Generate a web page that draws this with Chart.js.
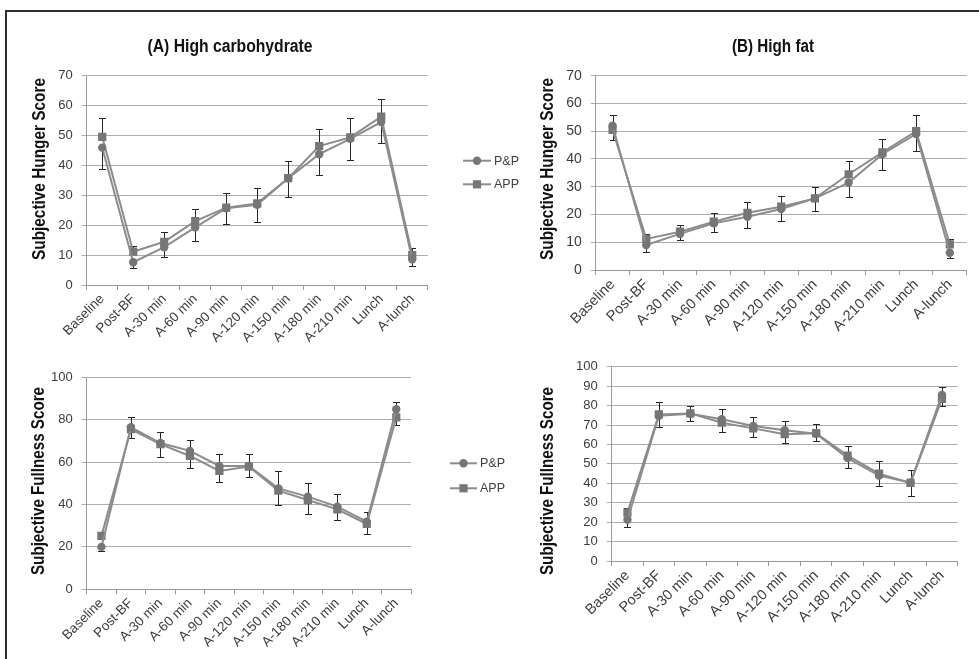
<!DOCTYPE html>
<html><head><meta charset="utf-8">
<script src="https://cdn.jsdelivr.net/npm/chart.js@4.4.1/dist/chart.umd.min.js"></script>
<style>
html,body{margin:0;padding:0;background:#fff;}
#wrap{position:relative;width:979px;height:659px;overflow:hidden;background:#fff;}
#frame{position:absolute;left:5px;top:10px;width:1000px;height:700px;border-top:2px solid #2e2e2e;border-left:2px solid #2e2e2e;}
canvas{position:absolute;}
</style></head><body>
<div id="wrap"><div id="frame"></div>
<canvas id="c1" width="530" height="340" style="left:0px;top:20px"></canvas>
<canvas id="c2" width="449" height="330" style="left:530px;top:20px"></canvas>
<canvas id="c3" width="530" height="299" style="left:0px;top:360px"></canvas>
<canvas id="c4" width="449" height="309" style="left:530px;top:350px"></canvas>
</div>
<script>
const categories = ['Baseline','Post-BF','A-30 min','A-60 min','A-90 min','A-120 min','A-150 min','A-180 min','A-210 min','Lunch','A-lunch'];
const seriesNames = ['P&P','APP'];

// (A) High carbohydrate – hunger
const hungerHC_PP      = [45.8, 7.6, 12.6, 19.2, 25.6, 26.7, 35.6, 43.6, 48.7, 54.3, 8.6];
const hungerHC_PP_err  = [7.1, 1.8, 3.2, 4.4, 5.4, 5.8, 6.4, 6.9, 7.0, 6.9, 2.3];
const hungerHC_APP     = [49.4, 11.1, 14.4, 21.3, 25.8, 27.2, 35.6, 46.3, 49.2, 56.1, 10.0];
const hungerHC_APP_err = [6.4, 2.0, 3.3, 4.1, 4.9, 5.1, 5.8, 5.8, 6.6, 5.9, 2.4];

// (B) High fat – hunger
const hungerHF_PP      = [52.0, 9.0, 13.0, 16.8, 19.2, 22.0, 25.8, 31.5, 41.7, 49.0, 6.2];
const hungerHF_PP_err  = [5.2, 2.6, 2.3, 3.2, 4.0, 4.5, 4.7, 5.1, 5.7, 6.1, 1.8];
const hungerHF_APP     = [50.5, 11.2, 13.8, 17.4, 20.6, 22.8, 25.8, 34.5, 42.4, 50.0, 9.2];
const hungerHF_APP_err = [5.2, 1.9, 2.4, 3.1, 3.9, 3.8, 4.1, 4.8, 4.7, 5.7, 2.0];

// (A) High carbohydrate – fullness
const fullHC_PP      = [20.0, 76.5, 69.0, 65.3, 58.2, 58.2, 47.6, 43.7, 39.0, 31.9, 84.9];
const fullHC_PP_err  = [1.9, 5.0, 6.4, 7.9, 7.7, 5.4, 7.8, 8.2, 6.3, 6.0, 7.4];
const fullHC_APP     = [25.2, 75.5, 68.5, 62.9, 55.8, 57.9, 46.5, 42.1, 37.7, 30.8, 81.1];
const fullHC_APP_err = [1.2, 5.8, 5.7, 7.5, 8.0, 5.9, 9.3, 8.1, 7.3, 5.8, 7.1];

// (B) High fat – fullness
const fullHF_PP      = [21.2, 74.8, 75.8, 73.0, 69.5, 67.3, 65.5, 53.0, 44.0, 40.4, 85.5];
const fullHF_PP_err  = [3.5, 5.8, 3.5, 6.4, 5.9, 6.6, 3.6, 5.1, 5.6, 6.8, 5.9];
const fullHF_APP     = [24.9, 75.5, 76.0, 71.2, 68.3, 65.3, 65.8, 54.3, 45.0, 40.2, 83.5];
const fullHF_APP_err = [2.5, 6.6, 3.6, 7.0, 6.1, 6.7, 5.0, 5.1, 6.3, 6.9, 6.2];

const hungerTicks = {min:0, max:70, step:10};
const fullHCTicks = {min:0, max:100, step:20};
const fullHFTicks = {min:0, max:100, step:10};

const TITLE_FAMILY = '"Liberation Sans", Arial, sans-serif';
const TICK_FAMILY = '"Liberation Sans", Arial, sans-serif';
const LINE_COLOR = '#8c8c8c';
const MARK_COLOR = '#767676';

// draws bold text horizontally condensed to a target width (narrow-font look)
function drawNarrow(ctx, text, x, y, size, width, rotate){
  ctx.save();
  ctx.font = 'bold ' + size + 'px ' + TITLE_FAMILY;
  const w = ctx.measureText(text).width;
  const sx = width / w;
  ctx.translate(x, y);
  if (rotate) ctx.rotate(-Math.PI/2);
  ctx.scale(sx, 1);
  ctx.textAlign = 'center';
  ctx.textBaseline = 'middle';
  ctx.fillStyle = '#111';
  ctx.fillText(text, 0, 0);
  ctx.restore();
}

const panelPlugin = {
  id: 'panel',
  beforeDatasetsDraw(chart, args, opts){
    const ctx = chart.ctx, ys = chart.scales.y;
    ctx.save();
    ctx.strokeStyle = '#262626';
    ctx.lineWidth = 1;
    chart.data.datasets.forEach((ds, i) => {
      const meta = chart.getDatasetMeta(i);
      meta.data.forEach((pt, j) => {
        const v = ds.data[j];
        const sets = [];
        if (ds.errPlus) sets.push(v + ds.errPlus[j]);
        if (ds.errMinus) sets.push(v - ds.errMinus[j]);
        sets.forEach(e => {
          const x = Math.round(pt.x) + 0.5;
          const y0 = ys.getPixelForValue(v);
          const y1 = Math.round(ys.getPixelForValue(e)) + 0.5;
          ctx.beginPath();
          ctx.moveTo(x, y0); ctx.lineTo(x, y1);
          ctx.moveTo(x - 3.5, y1); ctx.lineTo(x + 3.5, y1);
          ctx.stroke();
        });
      });
    });
    ctx.restore();
  },
  afterDraw(chart, args, opts){
    const ctx = chart.ctx;
    if (opts.title){
      drawNarrow(ctx, opts.title.text, opts.title.x, opts.title.y, 18, opts.title.width, false);
    }
    if (opts.yTitle){
      drawNarrow(ctx, opts.yTitle.text, opts.yTitle.x, opts.yTitle.y, 19, opts.yTitle.width, true);
    }
    if (opts.legend){
      ctx.save();
      const L = opts.legend;
      chart.data.datasets.forEach((ds, i) => {
        const y = L.y + i * L.gap;
        ctx.strokeStyle = ds.borderColor;
        ctx.lineWidth = 2;
        ctx.beginPath(); ctx.moveTo(L.x, y); ctx.lineTo(L.x + L.len, y); ctx.stroke();
        ctx.fillStyle = ds.pointBackgroundColor;
        const cx = L.x + L.len / 2;
        ctx.beginPath();
        if (ds.pointStyle === 'rect'){
          const h = ds.pointRadius * Math.SQRT1_2;
          ctx.rect(cx - h, y - h, 2*h, 2*h);
        } else {
          ctx.arc(cx, y, ds.pointRadius, 0, Math.PI*2);
        }
        ctx.fill();
        ctx.fillStyle = '#404040';
        ctx.font = L.font + 'px ' + TICK_FAMILY;
        ctx.textAlign = 'left';
        ctx.textBaseline = 'middle';
        ctx.fillText(ds.label, L.x + L.len + 3, y + 0.5);
      });
      ctx.restore();
    }
  }
};

function makeChart(id, cfg){
  const ctx = document.getElementById(id);
  return new Chart(ctx, {
    type: 'line',
    data: {
      labels: categories,
      datasets: [
        {label: seriesNames[0], data: cfg.pp, errMinus: cfg.ppErr,
         borderColor: LINE_COLOR, borderWidth: 2, pointStyle: 'circle', pointRadius: 4.2,
         pointBackgroundColor: MARK_COLOR, pointBorderColor: MARK_COLOR, pointBorderWidth: 0, tension: 0, fill: false},
        {label: seriesNames[1], data: cfg.app, errPlus: cfg.appErr,
         borderColor: LINE_COLOR, borderWidth: 2, pointStyle: 'rect', pointRadius: 5.8,
         pointBackgroundColor: MARK_COLOR, pointBorderColor: MARK_COLOR, pointBorderWidth: 0, tension: 0, fill: false}
      ]
    },
    options: {
      responsive: false, animation: false, devicePixelRatio: 1,
      layout: {padding: {top: cfg.padTop, right: cfg.padRight, left: 0, bottom: 0}},
      plugins: {
        legend: {display: false}, tooltip: {enabled: false}, title: {display: false},
        panel: {title: cfg.title, yTitle: cfg.yTitle, legend: cfg.legend}
      },
      scales: {
        x: {
          type: 'category', offset: true,
          grid: {display: true, drawOnChartArea: false, drawTicks: true, tickLength: 5, offset: true, color: '#9a9a9a'},
          border: {display: true, color: '#9a9a9a'},
          ticks: {autoSkip: false, minRotation: 45, maxRotation: 45, padding: 1, color: '#3c3c3c',
                  font: {family: TICK_FAMILY, size: cfg.xFont}},
          afterFit(s){ s.height = cfg.xH; }
        },
        y: {
          min: cfg.ticks.min, max: cfg.ticks.max,
          grid: {color: '#adadad', tickLength: 5, drawTicks: true},
          border: {display: true, color: '#9a9a9a'},
          ticks: {stepSize: cfg.ticks.step, padding: 9, color: '#3c3c3c',
                  font: {family: TICK_FAMILY, size: cfg.yFont}},
          afterFit(s){ s.width = cfg.yW; }
        }
      }
    },
    plugins: [panelPlugin]
  });
}

makeChart('c1', {pp: hungerHC_PP, ppErr: hungerHC_PP_err, app: hungerHC_APP, appErr: hungerHC_APP_err,
  ticks: hungerTicks, padTop: 55, padRight: 102.3, yW: 86.7, xH: 75, xFont: 13.5, yFont: 13,
  title: {text: '(A) High carbohydrate', x: 230, y: 27, width: 165},
  yTitle: {text: 'Subjective Hunger Score', x: 40, y: 149, width: 182},
  legend: {x: 463, y: 140.7, gap: 23.6, len: 28, font: 12.5}});

makeChart('c2', {pp: hungerHF_PP, ppErr: hungerHF_PP_err, app: hungerHF_APP, appErr: hungerHF_APP_err,
  ticks: hungerTicks, padTop: 55.7, padRight: 12.3, yW: 65.7, xH: 80, xFont: 14.5, yFont: 14,
  title: {text: '(B) High fat', x: 243, y: 27, width: 82},
  yTitle: {text: 'Subjective Hunger Score', x: 18, y: 149, width: 182}});

makeChart('c3', {pp: fullHC_PP, ppErr: fullHC_PP_err, app: fullHC_APP, appErr: fullHC_APP_err,
  ticks: fullHCTicks, padTop: 17.3, padRight: 119, yW: 86.7, xH: 69.7, xFont: 13.5, yFont: 13,
  yTitle: {text: 'Subjective Fullness Score', x: 39, y: 121, width: 188},
  legend: {x: 450, y: 103.3, gap: 25, len: 27, font: 12.5}});

makeChart('c4', {pp: fullHF_PP, ppErr: fullHF_PP_err, app: fullHF_APP, appErr: fullHF_APP_err,
  ticks: fullHFTicks, padTop: 12.9, padRight: 21.3, yW: 81.7, xH: 98, xFont: 14.5, yFont: 13,
  yTitle: {text: 'Subjective Fullness Score', x: 18, y: 131, width: 188}});
</script>
</body></html>
